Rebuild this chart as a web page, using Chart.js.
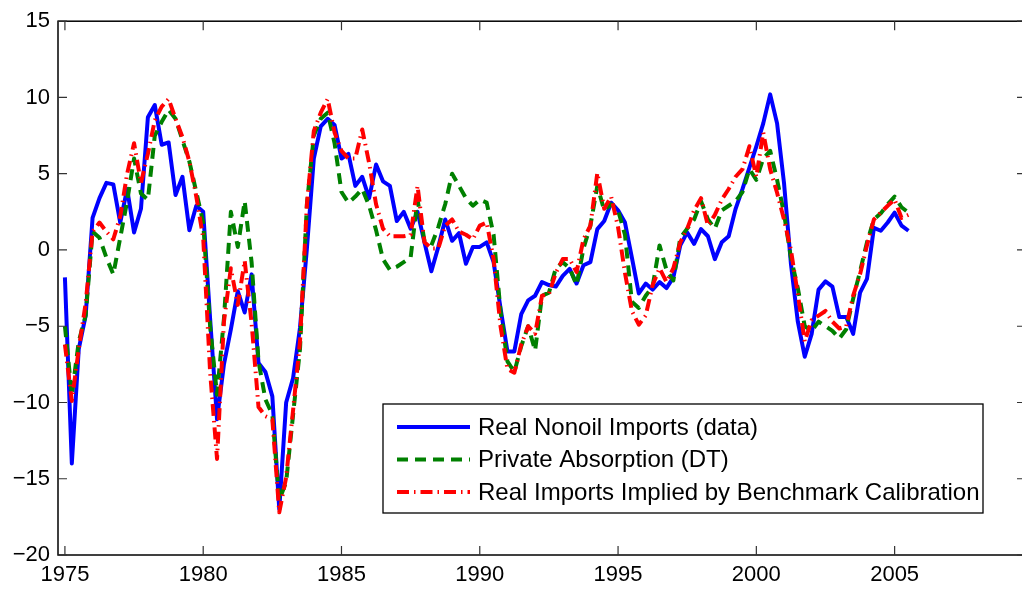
<!DOCTYPE html>
<html>
<head>
<meta charset="utf-8">
<script src="https://cdn.jsdelivr.net/npm/chart.js@4.4.1/dist/chart.umd.min.js"></script>
<style>
html,body{margin:0;padding:0;background:#fff;overflow:hidden;width:1022px;height:593px}
#c{display:block}
</style>
</head>
<body>
<canvas id="c" width="1030" height="593" style="width:1030px;height:593px"></canvas>
<script>
// ---- data (quarterly, starting 1975 Q1) ----
const startYear = 1975;
const quarterStep = 0.25;
const xTickYears = [1975, 1980, 1985, 1990, 1995, 2000, 2005];
const yTickValues = [-20, -15, -10, -5, 0, 5, 10, 15];
const seriesLabels = [
  "Real Nonoil Imports (data)",
  "Private Absorption (DT)",
  "Real Imports Implied by Benchmark Calibration"
];
const realNonoilImports = [
  -1.8, -14.0, -6.5, -4.3, 2.1, 3.4, 4.4, 4.3, 1.8, 4.0,
  1.15, 2.7, 8.7, 9.5, 6.9, 7.05, 3.6, 4.8, 1.3, 2.9,
  2.5, -4.5, -11.1, -7.5, -5.2, -2.7, -4.1, -1.6, -7.4, -8.0,
  -9.6, -17.0, -10.0, -8.4, -5.1, 0.1, 6.0, 8.1, 8.6, 8.2,
  6.0, 6.3, 4.2, 4.8, 3.4, 5.6, 4.5, 4.2, 1.9, 2.5,
  1.4, 2.5, 0.5, -1.4, 0.2, 2.0, 0.6, 1.1, -0.9, 0.2,
  0.2, 0.5, -0.8, -3.8, -6.65, -6.65, -4.2, -3.3, -3.0, -2.1,
  -2.3, -2.4, -1.7, -1.24, -2.2, -1.0, -0.8, 1.37, 1.9, 3.1,
  2.6, 1.8, -0.5, -2.85, -2.2, -2.6, -2.1, -2.5, -1.8, 0.3,
  1.15, 0.4, 1.37, 0.9, -0.6, 0.5, 0.9, 2.7, 4.0, 5.4,
  6.8, 8.3, 10.2, 8.3, 4.4, -0.9, -4.7, -7.0, -5.5, -2.6,
  -2.06, -2.4, -4.4, -4.4, -5.5, -2.8, -1.9, 1.45, 1.26, 1.8,
  2.45, 1.6, 1.26
];
const privateAbsorption = [
  -5.0, -9.5, -6.0, -4.3, 1.2, 0.8, -0.5, -1.6, 0.8, 3.2,
  6.0, 3.7, 3.3, 7.5, 8.4, 9.2, 8.6, 7.2, 5.8, 3.8,
  1.8, -5.0, -9.5, -4.5, 2.5, 0.2, 3.2, -0.8, -7.3, -9.8,
  -10.8, -16.4, -15.2, -10.8, -6.5, 3.0, 7.5, 8.6, 9.0, 7.0,
  3.8, 3.1, 3.5, 4.0, 2.9, 1.3, -0.6, -1.3, -1.1, -0.8,
  -0.5, 3.3, 0.6, 0.3, 1.5, 3.0, 5.0, 4.2, 3.4, 2.9,
  3.3, 3.1, 1.0, -4.0, -7.3, -8.0, -6.3, -5.0, -6.6, -3.0,
  -2.8, -1.2, -0.8, -1.2, -2.3, 0.1, 1.6, 4.2, 2.6, 3.0,
  2.6, 1.0, -3.4, -3.8, -3.0, -2.4, 0.3, -1.3, -2.0, 0.8,
  1.4, 2.0, 3.2, 2.0, 1.4, 2.6, 2.9, 3.2, 3.8, 5.3,
  4.6, 6.0, 6.5, 4.6, 2.4, -0.5, -2.5, -5.0, -5.3, -4.7,
  -5.0, -5.3, -5.8, -5.2, -3.2, -1.4, 0.5, 2.0, 2.4, 3.0,
  3.5, 2.8, 2.45
];
const benchmarkImports = [
  -6.2, -9.9, -6.5, -3.5, 1.2, 1.8, 1.2, 0.7, 2.2, 5.0,
  7.0, 4.4, 6.3, 8.5, 9.4, 9.9, 8.6, 7.4, 5.8, 3.5,
  0.8, -8.0, -13.7, -4.7, -1.2, -3.6, -0.7, -4.8, -10.3, -10.9,
  -11.1, -17.2, -14.9, -10.5, -6.0, 3.0, 7.8, 9.0, 9.9, 7.7,
  6.5, 6.0, 6.0, 7.9, 5.7, 3.0, 1.4, 0.9, 0.9, 0.9,
  1.0, 4.2, 0.5, 0.1, 0.1, 1.6, 2.0, 1.2, 1.0, 0.7,
  1.6, 1.8, -0.6, -5.0, -7.8, -8.05, -6.2, -5.0, -5.5, -3.0,
  -2.9, -1.5, -0.6, -0.6, -1.45, 0.7, 1.6, 5.05, 2.7, 3.5,
  1.5, -1.5, -4.0, -4.9, -4.3, -2.3, -1.2, -2.1, -1.2, 0.5,
  1.4, 2.6, 3.4, 1.6, 2.3, 3.3, 4.0, 4.8, 5.3, 6.8,
  4.8, 7.7, 5.3, 3.75, 2.0, 0.0, -2.9, -6.0, -4.6, -4.3,
  -4.0, -4.7, -5.15, -5.0, -3.0, -1.6, 0.3, 2.0, 2.45, 2.9,
  3.3, 2.1, 2.3
];
const quarters = realNonoilImports.map((_, i) => startYear + i * quarterStep);
const toPoints = arr => arr.map((v, i) => ({ x: quarters[i], y: v }));

const FONT = "'Liberation Sans', Arial, Helvetica, sans-serif";

// box around the axes with inward ticks on all four sides
const axisBox = {
  id: 'axisBox',
  afterDatasetsDraw(chart) {
    const { ctx, chartArea: a, scales: { x, y } } = chart;
    ctx.save();
    ctx.strokeStyle = '#000';
    ctx.lineWidth = 1.5;
    ctx.strokeRect(a.left, a.top, a.right - a.left, a.bottom - a.top);
    const L = 9;
    ctx.lineWidth = 1.2;
    ctx.strokeStyle = '#333';
    ctx.beginPath();
    x.ticks.forEach(t => {
      const px = x.getPixelForValue(t.value);
      ctx.moveTo(px, a.bottom); ctx.lineTo(px, a.bottom - L);
      ctx.moveTo(px, a.top); ctx.lineTo(px, a.top + L);
    });
    y.ticks.forEach(t => {
      const py = y.getPixelForValue(t.value);
      ctx.moveTo(a.left, py); ctx.lineTo(a.left + L, py);
      ctx.moveTo(a.right, py); ctx.lineTo(a.right - L, py);
    });
    ctx.stroke();
    ctx.restore();
  }
};

// legend box inside the plot
const boxLegend = {
  id: 'boxLegend',
  afterDraw(chart) {
    const { ctx } = chart;
    const bx = 383, by = 404, bw = 600, bh = 109;
    ctx.save();
    ctx.fillStyle = '#fff';
    ctx.fillRect(bx, by, bw, bh);
    ctx.strokeStyle = '#000';
    ctx.lineWidth = 1.3;
    ctx.strokeRect(bx, by, bw, bh);
    const ds = chart.data.datasets;
    ds.forEach((d, i) => {
      const yy = by + 23 + i * 32.5;
      ctx.beginPath();
      ctx.strokeStyle = d.borderColor;
      ctx.lineWidth = d.borderWidth;
      ctx.setLineDash(d.borderDash || []);
      ctx.lineCap = 'butt';
      ctx.moveTo(397, yy);
      ctx.lineTo(470, yy);
      ctx.stroke();
      ctx.setLineDash([]);
      ctx.fillStyle = '#000';
      ctx.font = '24px ' + FONT;
      ctx.textBaseline = 'middle';
      ctx.textAlign = 'left';
      ctx.fillText(d.label, 478, yy + 1);
    });
    ctx.restore();
  }
};

new Chart(document.getElementById('c'), {
  type: 'line',
  data: {
    datasets: [
      { label: seriesLabels[0], data: toPoints(realNonoilImports), borderColor: '#0000ff',
        borderWidth: 4, borderDash: [], order: 3 },
      { label: seriesLabels[1], data: toPoints(privateAbsorption), borderColor: '#008000',
        borderWidth: 4, borderDash: [11, 7], order: 2 },
      { label: seriesLabels[2], data: toPoints(benchmarkImports), borderColor: '#ff0000',
        borderWidth: 4, borderDash: [12, 5, 1.5, 5], order: 1 }
    ].map(d => Object.assign(d, { pointRadius: 0, pointHoverRadius: 0, tension: 0, fill: false,
        borderJoinStyle: 'round', borderCapStyle: 'butt' }))
  },
  options: {
    responsive: false,
    animation: false,
    devicePixelRatio: 1,
    layout: { padding: { top: 16, right: 4, left: 0, bottom: 0 } },
    plugins: { legend: { display: false }, tooltip: { enabled: false }, title: { display: false } },
    scales: {
      x: {
        type: 'linear', min: 1974.75, max: 2009.75,
        afterBuildTicks: s => { s.ticks = xTickYears.map(v => ({ value: v })); },
        ticks: { callback: v => String(v), color: '#000', font: { family: FONT, size: 22 },
                 padding: 7, maxRotation: 0, autoSkip: false },
        grid: { display: false, drawTicks: false },
        border: { display: false },
        afterFit: s => { s.height = 38; }
      },
      y: {
        min: -20, max: 15,
        afterBuildTicks: s => { s.ticks = yTickValues.map(v => ({ value: v })); },
        ticks: { callback: v => (v < 0 ? '\u2212' + Math.abs(v) : String(v)), color: '#000',
                 font: { family: FONT, size: 22 }, padding: 8 },
        grid: { display: false, drawTicks: false },
        border: { display: false },
        afterFit: s => { s.width = 58; }
      }
    }
  },
  plugins: [axisBox, boxLegend]
});
</script>
</body>
</html>
